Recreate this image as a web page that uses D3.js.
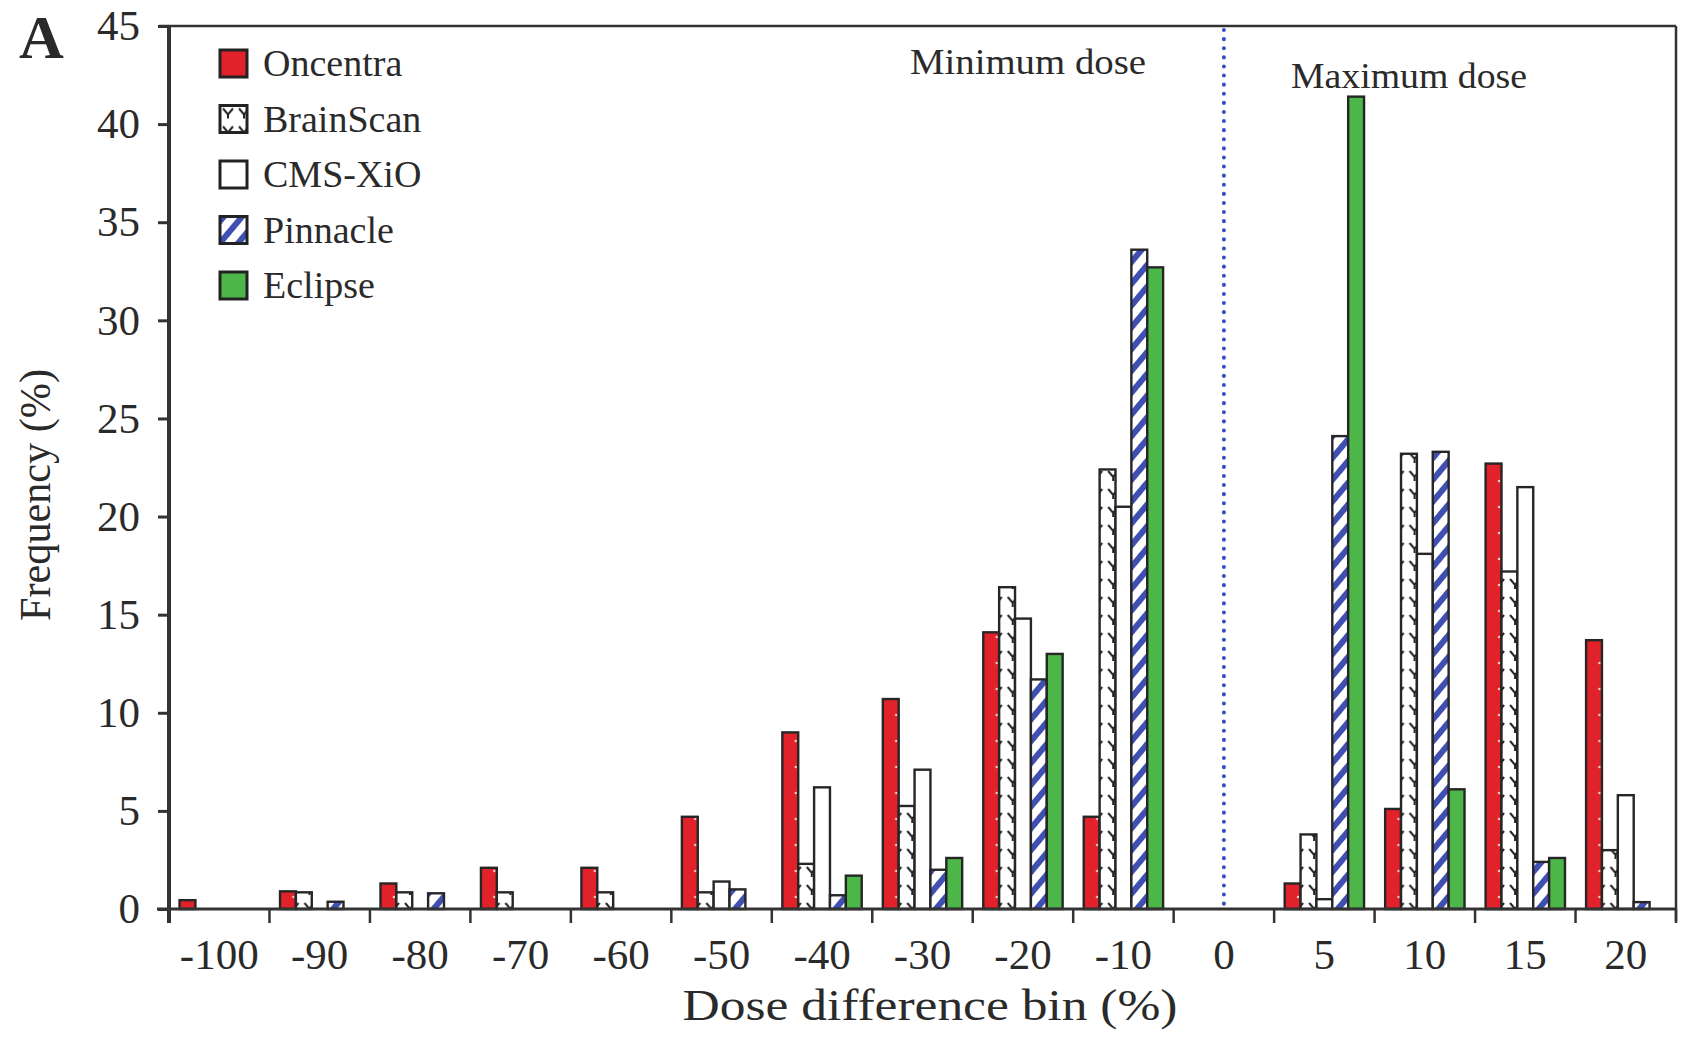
<!DOCTYPE html>
<html>
<head>
<meta charset="utf-8">
<script src="https://d3js.org/d3.v7.min.js"></script>
<style>
  html, body { margin: 0; padding: 0; background: #fff; }
  svg text { font-family: "Liberation Serif", Tinos, "Times New Roman", Times, serif; fill: #2a2a2a; }
</style>
</head>
<body>
<div id="chart"></div>
<script>
// dose difference bins (x categories)
const categories = ['-100', '-90', '-80', '-70', '-60', '-50', '-40', '-30', '-20', '-10', '0', '5', '10', '15', '20'];
const seriesNames = ['Oncentra', 'BrainScan', 'CMS-XiO', 'Pinnacle', 'Eclipse'];

// frequency (%) per bin
const oncentra  = [0.45, 0.9, 1.3, 2.1, 2.1, 4.7, 9.0, 10.7, 14.1, 4.7, 0, 1.3, 5.1, 22.7, 13.7];
const brainScan = [0, 0.85, 0.85, 0.85, 0.85, 0.85, 2.3, 5.25, 16.4, 22.4, 0, 3.8, 23.2, 17.2, 3.0];
const cmsXio    = [0, 0, 0, 0, 0, 1.4, 6.2, 7.1, 14.8, 20.5, 0, 0.5, 18.1, 21.5, 5.8];
const pinnacle  = [0, 0.37, 0.8, 0, 0, 1.0, 0.7, 2.0, 11.7, 33.6, 0, 24.1, 23.3, 2.4, 0.35];
const eclipse   = [0, 0, 0, 0, 0, 0, 1.7, 2.6, 13.0, 32.7, 0, 41.4, 6.1, 2.6, 0];

const yTicks = [0, 5, 10, 15, 20, 25, 30, 35, 40, 45];

const width = 1685, height = 1041;
const plotLeft = 169, plotRight = 1676, plotTop = 26, plotBottom = 909;
const serif = '"Liberation Serif", Tinos, "Times New Roman", Times, serif';

const svg = d3.select('#chart').append('svg')
  .attr('width', width)
  .attr('height', height);

// fill patterns
const defs = svg.append('defs');

const pRed = defs.append('pattern').attr('id', 'pat-oncentra')
  .attr('patternUnits', 'userSpaceOnUse').attr('width', 16).attr('height', 26);
pRed.append('rect').attr('width', 16).attr('height', 26).attr('fill', '#e2222a');
pRed.append('circle').attr('cx', 8).attr('cy', 13).attr('r', 1.3).attr('fill', '#f6c8c8');

const pBrain = defs.append('pattern').attr('id', 'pat-brainscan')
  .attr('patternUnits', 'userSpaceOnUse').attr('width', 16).attr('height', 18);
pBrain.append('rect').attr('width', 16).attr('height', 18).attr('fill', '#fff');
pBrain.append('path').attr('d', 'M3,3 L8,9 L13,3 M8,9 L8,13')
  .attr('fill', 'none').attr('stroke', '#222').attr('stroke-width', 2);

const pPin = defs.append('pattern').attr('id', 'pat-pinnacle')
  .attr('patternUnits', 'userSpaceOnUse').attr('width', 14).attr('height', 14)
  .attr('patternTransform', 'rotate(40)');
pPin.append('rect').attr('width', 14).attr('height', 14).attr('fill', '#fff');
pPin.append('rect').attr('width', 6).attr('height', 14).attr('fill', '#3f4fb2');

const fills = {
  'Oncentra': 'url(#pat-oncentra)',
  'BrainScan': 'url(#pat-brainscan)',
  'CMS-XiO': '#ffffff',
  'Pinnacle': 'url(#pat-pinnacle)',
  'Eclipse': '#4cb748'
};
const legendFills = {
  'Oncentra': '#e2222a',
  'BrainScan': 'url(#pat-brainscan)',
  'CMS-XiO': '#ffffff',
  'Pinnacle': 'url(#pat-pinnacle)',
  'Eclipse': '#4cb748'
};

const seriesData = [oncentra, brainScan, cmsXio, pinnacle, eclipse];
const rows = categories.map((c, i) => {
  const r = { cat: c };
  seriesNames.forEach((s, j) => { r[s] = seriesData[j][i]; });
  return r;
});

// scales
const x0 = d3.scaleBand().domain(categories).range([plotLeft, plotRight]).padding(0);
const bw = x0.bandwidth();
const x1 = d3.scaleBand().domain(seriesNames).range([bw * 0.105, bw * 0.895]).padding(0);
const y = d3.scaleLinear().domain([0, 45]).range([plotBottom, plotTop]);

// bars
const groups = svg.append('g').selectAll('g')
  .data(rows)
  .enter().append('g')
  .attr('transform', d => `translate(${x0(d.cat)},0)`);

groups.selectAll('rect')
  .data(d => seriesNames.map(s => ({ key: s, value: d[s] })).filter(d => d.value > 0))
  .enter().append('rect')
  .attr('x', d => x1(d.key))
  .attr('y', d => y(d.value))
  .attr('width', x1.bandwidth())
  .attr('height', d => y(0) - y(d.value))
  .attr('fill', d => fills[d.key])
  .attr('stroke', '#262626')
  .attr('stroke-width', 2.4);

// dotted divider at the 0 bin
svg.append('line')
  .attr('x1', x0('0') + bw / 2).attr('x2', x0('0') + bw / 2)
  .attr('y1', plotTop + 4).attr('y2', plotBottom - 2)
  .attr('stroke', '#3a4cc4')
  .attr('stroke-width', 4)
  .attr('stroke-linecap', 'round')
  .attr('stroke-dasharray', '0.1,9');

// frame
const frame = svg.append('g').attr('stroke', '#333').attr('fill', 'none');
frame.append('line').attr('x1', plotLeft - 10).attr('x2', plotRight).attr('y1', plotTop).attr('y2', plotTop).attr('stroke-width', 2.5);
frame.append('line').attr('x1', plotRight).attr('x2', plotRight).attr('y1', plotTop).attr('y2', plotBottom + 12).attr('stroke-width', 2.5);
frame.append('line').attr('x1', plotLeft - 12).attr('x2', plotRight).attr('y1', plotBottom).attr('y2', plotBottom).attr('stroke-width', 3);
frame.append('line').attr('x1', plotLeft).attr('x2', plotLeft).attr('y1', plotTop).attr('y2', plotBottom + 14).attr('stroke-width', 4);

// x boundary ticks
const bounds = categories.map(c => x0(c)).concat([plotRight]);
svg.append('g').selectAll('line')
  .data(bounds)
  .enter().append('line')
  .attr('x1', d => d).attr('x2', d => d)
  .attr('y1', plotBottom).attr('y2', plotBottom + 14)
  .attr('stroke', '#333').attr('stroke-width', 2.5);

// y axis
const yAxis = svg.append('g')
  .attr('transform', `translate(${plotLeft},0)`)
  .call(d3.axisLeft(y).tickValues(yTicks).tickSize(11).tickPadding(18));
yAxis.select('.domain').remove();
yAxis.selectAll('line').attr('stroke', '#333').attr('stroke-width', 3);
yAxis.selectAll('text')
  .style('font-family', serif)
  .style('font-size', '43px')
  .attr('fill', '#2a2a2a');

// x axis labels
const xAxis = svg.append('g')
  .attr('transform', `translate(0,${plotBottom})`)
  .call(d3.axisBottom(x0).tickSize(0).tickPadding(29));
xAxis.select('.domain').remove();
xAxis.selectAll('text')
  .style('font-family', serif)
  .style('font-size', '43px')
  .attr('fill', '#2a2a2a');

// axis titles
svg.append('text')
  .attr('x', 930).attr('y', 1020)
  .attr('text-anchor', 'middle')
  .attr('textLength', 495)
  .attr('lengthAdjust', 'spacingAndGlyphs')
  .style('font-size', '44px')
  .text('Dose difference bin (%)');

svg.append('text')
  .attr('transform', 'translate(50,495) rotate(-90)')
  .attr('text-anchor', 'middle')
  .attr('textLength', 252)
  .attr('lengthAdjust', 'spacingAndGlyphs')
  .style('font-size', '45px')
  .text('Frequency (%)');

// panel letter
svg.append('text')
  .attr('x', 19).attr('y', 58)
  .style('font-size', '62px')
  .style('font-weight', 'bold')
  .text('A');

// annotations
svg.append('text')
  .attr('x', 1028).attr('y', 74)
  .attr('text-anchor', 'middle')
  .attr('textLength', 236)
  .attr('lengthAdjust', 'spacingAndGlyphs')
  .style('font-size', '36px')
  .text('Minimum dose');
svg.append('text')
  .attr('x', 1409).attr('y', 88)
  .attr('text-anchor', 'middle')
  .attr('textLength', 236)
  .attr('lengthAdjust', 'spacingAndGlyphs')
  .style('font-size', '36px')
  .text('Maximum dose');

// legend
const legend = svg.append('g').attr('transform', 'translate(220,50)');
const items = legend.selectAll('g')
  .data(seriesNames)
  .enter().append('g')
  .attr('transform', (d, i) => `translate(0,${i * 55.5})`);
items.append('rect')
  .attr('width', 27).attr('height', 27)
  .attr('fill', d => legendFills[d])
  .attr('stroke', '#222').attr('stroke-width', 3);
items.append('text')
  .attr('x', 43).attr('y', 26)
  .style('font-size', '38px')
  .text(d => d);
</script>
</body>
</html>
